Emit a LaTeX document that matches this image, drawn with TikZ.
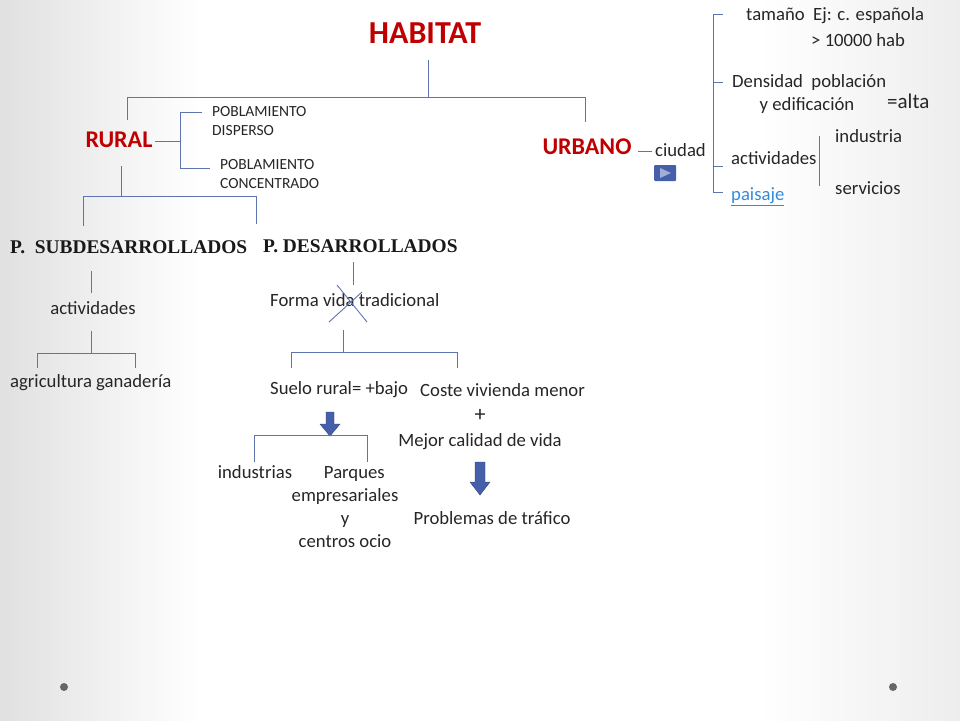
\documentclass[tikz,border=0pt]{standalone}
\usepackage{fontspec}
\setmainfont{Carlito}
\newfontfamily\serifb{Liberation Serif}
\definecolor{ln}{RGB}{95,115,175}
\definecolor{rd}{RGB}{192,0,0}
\definecolor{ar}{RGB}{70,95,170}
\definecolor{lk}{RGB}{50,140,220}
\begin{document}
\begin{tikzpicture}[x=1pt,y=-1pt,
  t/.style={inner sep=0pt,font=\fontsize{18.7}{20}\selectfont,text=black!85},
  ts/.style={inner sep=0pt,font=\fontsize{15.5}{18.5}\selectfont,text=black!85,align=left},
  rt/.style={inner sep=0pt,font=\fontsize{24}{26}\selectfont\bfseries,text=rd},
  sb/.style={inner sep=0pt,font=\serifb\fontsize{19.4}{21}\selectfont\bfseries,text=black!90},
  l/.style={draw=ln,line width=0.9pt},
  fat/.style={fill=ar,draw=ar!70!black}]
\useasboundingbox (0,0) rectangle (960,720);
\shade[left color=black!12,right color=white] (0,0) rectangle (200,720);
\fill[white] (200,0) rectangle (760,720);
\shade[left color=white,right color=black!7] (760,0) rectangle (960,720);
\fill[black!60] (64,687) circle (4) (893,687) circle (4);
% top
\node[rt,font=\fontsize{32}{34}\selectfont\bfseries] (hab) at (425,33) {HABITAT};
\node[rt] (rur) at (119,140) {RURAL};
\node[rt] (urb) at (587,147) {URBANO};
\draw[l] (428,60) -- (428,97);
\draw[l] (127,120) -- (127,97) -- (585,97) -- (585,122);
% rural poblamiento
\node[ts,anchor=west] (dis) at (212,121) {POBLAMIENTO\\DISPERSO};
\node[ts,anchor=west] (con) at (220,174) {POBLAMIENTO\\CONCENTRADO};
\draw[l] (155,141) -- (180,141);
\draw[l] (202,112) -- (180,112) -- (180,168) -- (210,168);
% rural tree
\draw[l] (121,166) -- (121,196);
\draw[l] (83,226) -- (83,196) -- (256,196) -- (256,224);
\node[sb,anchor=west] (sub) at (10,247) {P.\ \ SUBDESARROLLADOS};
\node[sb,anchor=west] (des) at (263,246) {P. DESARROLLADOS};
\draw[l] (91,271) -- (91,293);
\node[t] (act) at (93,308) {actividades};
\draw[l] (91,331) -- (91,353);
\draw[l] (37,368) -- (37,353) -- (135,353) -- (135,368);
\node[t,anchor=west] (agr) at (10,383) {agricultura\ ganadería};
\draw[l] (353,262) -- (353,285);
\node[t,anchor=west] (for) at (270,300) {Forma vida tradicional};
\draw[l] (337,285) -- (367,322);
\draw[l] (329,322) -- (362,292);
\draw[l] (343,330) -- (343,352);
\draw[l] (291,368) -- (291,352) -- (457,352) -- (457,368);
\node[t,anchor=west] (sue) at (270,390) {Suelo rural= +bajo};
\node[t,anchor=west] (cos) at (420,390) {Coste vivienda menor};
\node[t,font=\fontsize{22}{24}\selectfont] (pl) at (480,415) {+};
\node[t] (mej) at (480,442) {Mejor calidad de vida};
\node[t] (pro) at (492,518) {Problemas de tráfico};
\fill[fat] (475,462) -- (485,462) -- (485,482) -- (490,482) -- (480,495) -- (470,482) -- (475,482) -- cycle;
\fill[fat] (326,412) -- (334,412) -- (334,424) -- (340,424) -- (330,436) -- (320,424) -- (326,424) -- cycle;
\draw[l] (254,462) -- (254,435) -- (367,435) -- (367,462);
\node[t] (ind) at (255,472) {industrias};
\node[t,align=center,font=\fontsize{18.7}{23}\selectfont] (par) at (345,507) {\quad Parques\\empresariales\\y\\centros ocio};
% urbano
\draw[l] (638,151) -- (652,151);
\node[t,anchor=west] (ciu) at (655,150) {ciudad};
\fill[ar,rounded corners=1pt] (654,165) rectangle (676,181);
\fill[ar!50!white] (660,168) -- (660,178) -- (671,173) -- cycle;
\draw[l] (723,14) -- (713,14) -- (713,192) -- (723,192);
\draw[l] (713,82) -- (723,82);
\draw[l] (713,166) -- (723,166);
\node[t,anchor=west] (tam) at (746,16) {tamaño\ \ Ej: c. española};
\node[t,anchor=west] (hb) at (811,40) {> 10000 hab};
\node[t,anchor=west] (den) at (732,83) {Densidad\ \ población};
\node[t] (edi) at (807,106) {y edificación};
\node[t,anchor=west,font=\fontsize{21}{23}\selectfont] (alt) at (887,101) {=alta};
\node[t,anchor=west] (uac) at (731,158) {actividades};
\draw[l] (819,136) -- (819,186);
\node[t,anchor=west] (ins) at (835,136) {industria};
\node[t,anchor=west] (ser) at (835,188) {servicios};
\node[t,anchor=west,text=lk] (pai) at (731,197) {\underline{paisaje}};
\end{tikzpicture}
\end{document}
